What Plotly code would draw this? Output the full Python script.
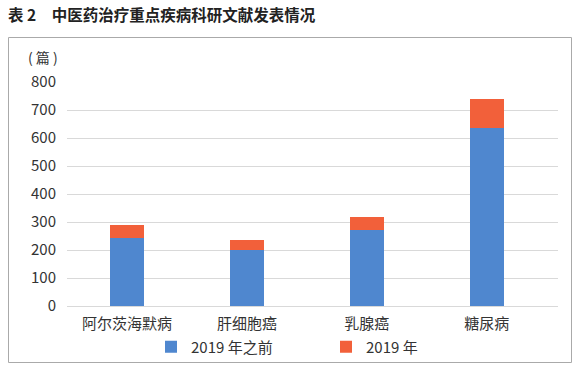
import plotly.graph_objects as go

categories = ["阿尔茨海默病", "肝细胞癌", "乳腺癌", "糖尿病"]
before_2019 = [242, 200, 271, 635]
in_2019 = [46, 36, 48, 103]
y_ticks = [0, 100, 200, 300, 400, 500, 600, 700, 800]
title_text = "表 2　中医药治疗重点疾病科研文献发表情况"
unit_text = "( 篇 )"

W, H = 580, 367
L, R, T, B = 67, 22, 82, 61
pw, ph = W - L - R, H - T - B

def px(x):
    return (x - L) / pw

def py(y):
    return (H - B - y) / ph

font = "Noto Sans CJK SC, Noto Sans, sans-serif"
blue = "#4F87CF"
orange = "#F2603A"

fig = go.Figure()
fig.add_trace(go.Bar(x=categories, y=before_2019, name="2019 年之前",
                     marker=dict(color=blue, line=dict(width=0)), width=0.285))
fig.add_trace(go.Bar(x=categories, y=in_2019, name="2019 年",
                     marker=dict(color=orange, line=dict(width=0)), width=0.285))

fig.update_layout(
    width=W, height=H,
    margin=dict(l=L, r=R, t=T, b=B, autoexpand=False),
    barmode="stack",
    paper_bgcolor="white", plot_bgcolor="white",
    font=dict(family=font, color="#333333", size=15),
    title=dict(text="<b>" + title_text + "</b>", x=8 / W, xref="container", xanchor="left",
               y=1 - 16 / H, yref="container", yanchor="middle",
               font=dict(size=15.5, color="#222222", family=font)),
    xaxis=dict(range=[-0.5, 3.594], showgrid=False, showline=False,
               ticks="outside", ticklen=4, tickcolor="rgba(0,0,0,0)",
               tickfont=dict(size=15, color="#333333")),
    yaxis=dict(range=[0, 800], tickvals=y_ticks, showgrid=True, gridcolor="#D9D9D9",
               gridwidth=1, zeroline=True, zerolinecolor="#D9D9D9", zerolinewidth=1,
               showline=False, ticks="outside", ticklen=7, tickcolor="rgba(0,0,0,0)",
               tickfont=dict(size=15, color="#333333")),
    legend=dict(orientation="h", traceorder="normal", x=px(151), y=py(347),
                xanchor="left", yanchor="middle",
                font=dict(size=15, color="#333333"), entrywidth=130, entrywidthmode="pixels",
                bgcolor="rgba(0,0,0,0)"),
    showlegend=True,
)

fig.add_annotation(text=unit_text, x=px(43), y=py(57), xref="paper", yref="paper",
                   xanchor="center", yanchor="middle",
                   showarrow=False, font=dict(size=14, color="#333333"))

fig.add_shape(type="rect", xref="paper", yref="paper",
              x0=px(8.5), x1=px(571.5), y0=py(37.5), y1=py(362.5),
              line=dict(color="#AAAAAA", width=1), fillcolor="rgba(0,0,0,0)", layer="above")

fig.write_html("out.html", config={"displayModeBar": False},
               post_script="document.body.style.margin='0';document.body.style.overflow='hidden';")
